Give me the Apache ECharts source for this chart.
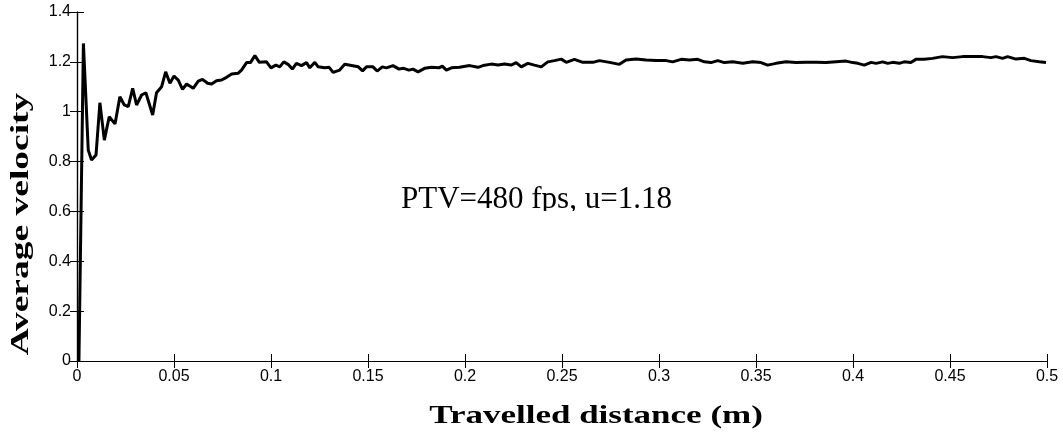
<!DOCTYPE html>
<html>
<head>
<meta charset="utf-8">
<title>Average velocity</title>
<script src="https://cdn.jsdelivr.net/npm/echarts@6/dist/echarts.min.js"></script>
<style>
  html, body { margin: 0; padding: 0; background: #fff; overflow: hidden; }
  #chart { width: 1063px; height: 435px; }
</style>
</head>
<body>
<div id="chart"></div>
<script>
// travelled distance (m)
var distance = [
  0.001, 0.0033, 0.0058, 0.0075, 0.0098, 0.0118, 0.0141, 0.0166, 0.0196, 0.0221,
  0.0244, 0.0264, 0.0287, 0.0307, 0.0333, 0.0355, 0.039, 0.041, 0.0436, 0.0457,
  0.0479, 0.05, 0.0522, 0.0544, 0.0565, 0.0599, 0.0625, 0.0647, 0.0673, 0.0694,
  0.0719, 0.0745, 0.0771, 0.0797, 0.083, 0.0848, 0.0874, 0.0894, 0.0917, 0.094,
  0.0977, 0.1, 0.1025, 0.1045, 0.1066, 0.1088, 0.111, 0.1131, 0.1157, 0.1183,
  0.12, 0.1226, 0.1243, 0.1277, 0.13, 0.132, 0.1354, 0.138, 0.1415, 0.145,
  0.1472, 0.1492, 0.1526, 0.1547, 0.1574, 0.1595, 0.1629, 0.166, 0.1684, 0.1711,
  0.1732, 0.1758, 0.1792, 0.1827, 0.1866, 0.1883, 0.1904, 0.193, 0.1972, 0.2024,
  0.2067, 0.2093, 0.2135, 0.217, 0.2204, 0.2238, 0.2264, 0.229, 0.2324, 0.2358,
  0.2393, 0.2427, 0.2461, 0.2496, 0.2522, 0.2564, 0.2607, 0.2659,
  0.2693, 0.2745, 0.2796, 0.283, 0.2882, 0.2934, 0.2985, 0.3037, 0.307, 0.3114,
  0.3157, 0.32, 0.3234, 0.3268, 0.3303, 0.3337, 0.338, 0.3432, 0.3483, 0.3526,
  0.356, 0.3603, 0.3655, 0.3706, 0.3758, 0.381, 0.3861, 0.3913, 0.3964, 0.3999,
  0.4025, 0.4058, 0.4093, 0.4119, 0.4153, 0.4179, 0.4205, 0.4238, 0.4264, 0.4298,
  0.4324, 0.4367, 0.441, 0.4461, 0.4513, 0.4565, 0.4616, 0.4668, 0.4711, 0.4737,
  0.4771, 0.4797, 0.484, 0.4883, 0.4917, 0.496, 0.4995
];
// average velocity
var velocity = [
  0, 1.274, 0.846, 0.806, 0.826, 1.036, 0.886, 0.98, 0.951, 1.06,
  1.027, 1.02, 1.094, 1.027, 1.067, 1.076, 0.987, 1.076, 1.10, 1.16,
  1.114, 1.143, 1.127, 1.09, 1.111, 1.094, 1.123, 1.13, 1.114, 1.111,
  1.124, 1.127, 1.138, 1.151, 1.154, 1.167, 1.197, 1.197, 1.225, 1.198,
  1.2, 1.176, 1.187, 1.18, 1.2, 1.19, 1.171, 1.194, 1.185, 1.197,
  1.176, 1.198, 1.18, 1.176, 1.178, 1.158, 1.167, 1.19, 1.185, 1.18,
  1.164, 1.18, 1.18, 1.163, 1.18, 1.176, 1.185, 1.171, 1.174, 1.167,
  1.171, 1.16, 1.174, 1.178, 1.176, 1.183, 1.167, 1.176, 1.178, 1.185,
  1.178, 1.185, 1.191, 1.187, 1.191, 1.187, 1.197, 1.18, 1.194, 1.187,
  1.18, 1.2, 1.205, 1.211, 1.198, 1.21, 1.198, 1.198,
  1.205, 1.198, 1.19, 1.207, 1.211, 1.207, 1.205, 1.205, 1.2, 1.21,
  1.207, 1.21, 1.2, 1.197, 1.205, 1.197, 1.2, 1.194, 1.2, 1.197,
  1.187, 1.194, 1.2, 1.197, 1.198, 1.198, 1.197, 1.2, 1.203, 1.197,
  1.194, 1.187, 1.198, 1.194, 1.2, 1.194, 1.198, 1.194, 1.2, 1.197,
  1.21, 1.21, 1.214, 1.221, 1.217, 1.221, 1.221, 1.221, 1.217, 1.221,
  1.214, 1.221, 1.211, 1.214, 1.205, 1.2, 1.197
];
var annotation = 'PTV=480 fps, u=1.18';
var xTitle = 'Travelled distance (m)';
var yTitle = 'Average velocity';

var chart = echarts.init(document.getElementById('chart'), null, { renderer: 'canvas' });

var pts = distance.map(function (d, i) { return [d, velocity[i]]; });

var tickFont = { color: '#000', fontFamily: 'Liberation Sans, Arial, sans-serif', fontSize: 16 };
var serifBold = 'bold 25px "Liberation Serif", "Times New Roman", serif';
var lineBlack = { show: true, lineStyle: { color: '#000', width: 1.2 } };
var tickIn = { show: true, inside: true, length: 7, lineStyle: { color: '#000', width: 1 } };

function fmt(v) { return String(+v.toFixed(2)); }

var option = {
  animation: false,
  backgroundColor: '#fff',
  grid: { left: 77, right: 16, top: 12, bottom: 74, containLabel: false },
  xAxis: [{
    type: 'value', min: 0, max: 0.5, interval: 0.05,
    axisLine: lineBlack, axisTick: tickIn,
    axisLabel: Object.assign({ margin: 8, formatter: fmt }, tickFont),
    splitLine: { show: false }
  }, {
    type: 'value', position: 'top', min: 0, max: 0.5, interval: 0.05,
    axisLine: lineBlack, axisTick: tickIn, axisLabel: { show: false }, splitLine: { show: false }
  }],
  yAxis: [{
    type: 'value', min: 0, max: 1.4, interval: 0.2,
    axisLine: lineBlack, axisTick: tickIn,
    axisLabel: Object.assign({ margin: 6, formatter: fmt }, tickFont),
    splitLine: { show: false }
  }, {
    type: 'value', position: 'right', min: 0, max: 1.4, interval: 0.2,
    axisLine: lineBlack, axisTick: tickIn, axisLabel: { show: false }, splitLine: { show: false }
  }],
  series: [{
    type: 'line', data: pts, xAxisIndex: 0, yAxisIndex: 0,
    showSymbol: false, symbol: 'none', smooth: false,
    lineStyle: { color: '#000', width: 3 },
    clip: true
  }],
  graphic: [
    // axis titles are drawn wide, like in the original figure
    {
      type: 'text', x: 596, y: 417, scaleX: 1.4, z: 10,
      style: { text: xTitle, fill: '#000', font: serifBold, align: 'center', verticalAlign: 'middle' }
    },
    {
      type: 'text', x: 22, y: 224, rotation: Math.PI / 2, scaleX: 1.5, z: 10,
      style: { text: yTitle, fill: '#000', font: serifBold, align: 'center', verticalAlign: 'middle' }
    },
    {
      type: 'text', left: 401, top: 184, z: 10,
      style: { text: annotation, fill: '#000', font: '31px "Liberation Serif", "Times New Roman", serif' }
    },
    // the original crops the descenders of the annotation and y title
    { type: 'rect', shape: { x: 395, y: 211, width: 300, height: 14 }, style: { fill: '#fff' }, z: 20 },
    { type: 'rect', shape: { x: 34, y: 80, width: 10, height: 290 }, style: { fill: '#fff' }, z: 20 }
  ]
};

chart.setOption(option);
</script>
</body>
</html>
